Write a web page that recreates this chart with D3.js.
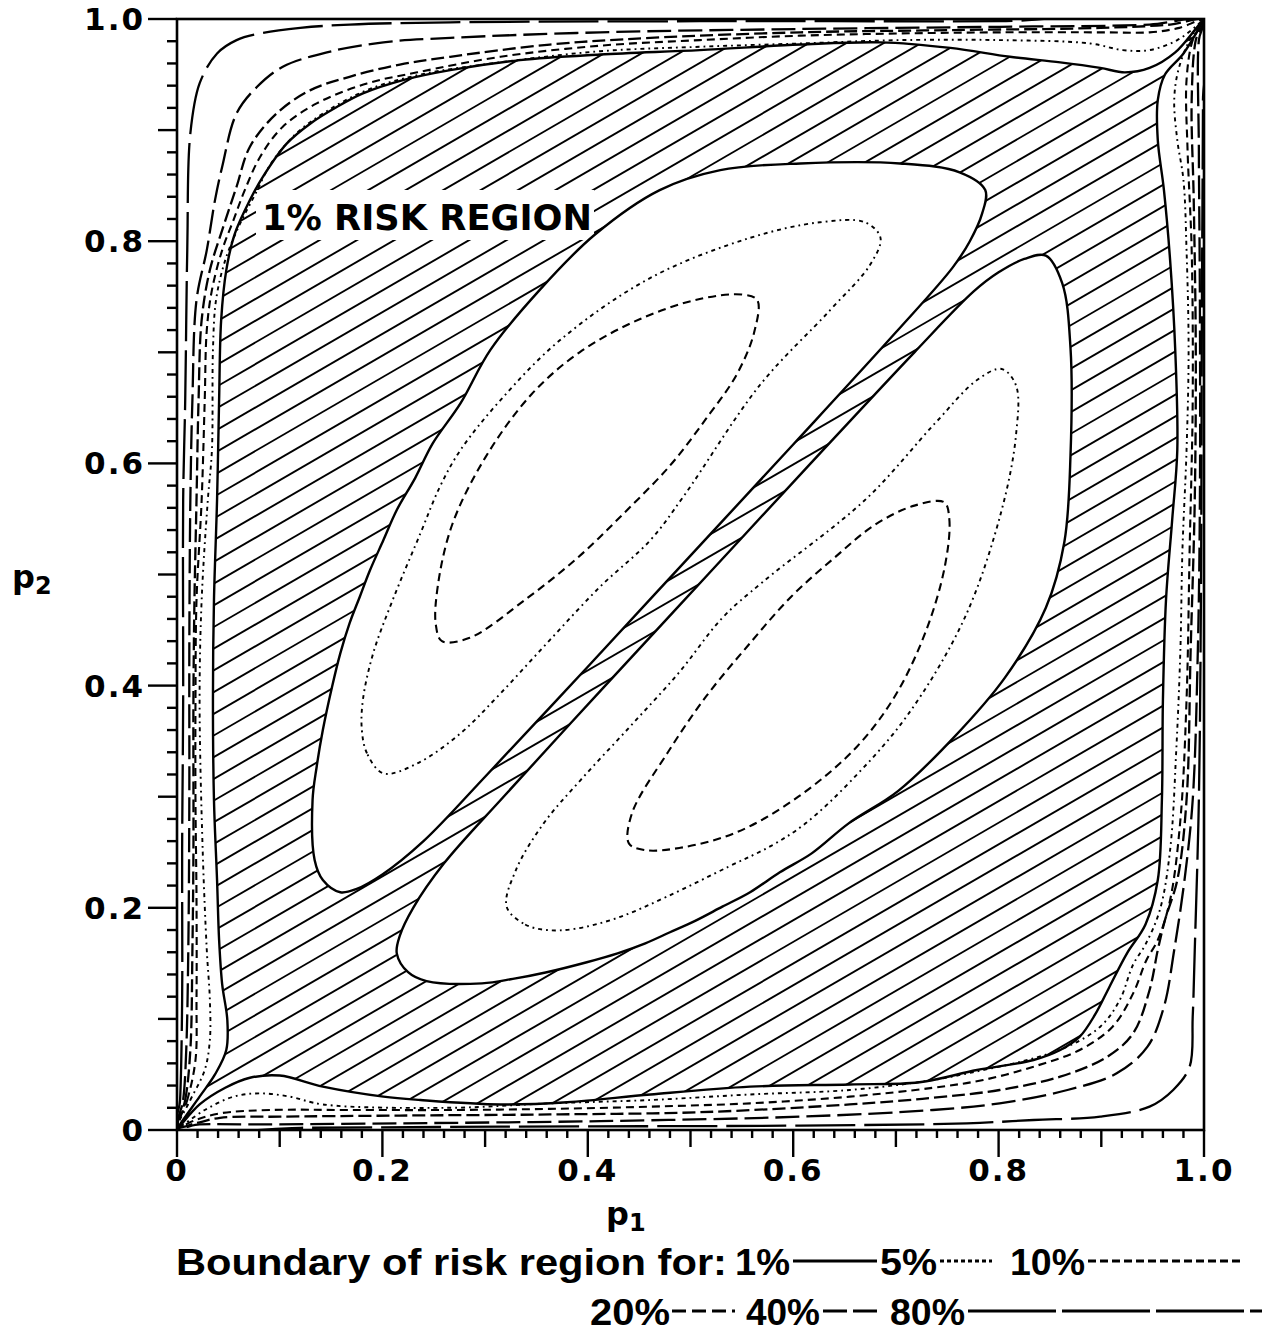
<!DOCTYPE html>
<html><head><meta charset="utf-8">
<script src="https://cdn.jsdelivr.net/npm/d3@7"></script>
<style>body{margin:0;background:#fff}svg{display:block}</style>
</head><body>
<svg id="c" width="1267" height="1335"></svg>
<script>
// ---------------- DATA ----------------
const levels = ["1%", "5%", "10%", "20%", "40%", "80%"];
const xTickValues = [0, 0.2, 0.4, 0.6, 0.8, 1.0];
const xTickLabels = ["0", "0.2", "0.4", "0.6", "0.8", "1.0"];
const yTickValues = [0, 0.2, 0.4, 0.6, 0.8, 1.0];
const yTickLabels = ["0", "0.2", "0.4", "0.6", "0.8", "1.0"];
const xLabel = "p", xSub = "1", yLabel = "p", ySub = "2";
const regionLabel = "1% RISK REGION";

// outer boundaries (p1, p2), one closed loop per level
const outer1 = [[0.001,0.002],[0.022,0.030],[0.037,0.050],[0.048,0.072],[0.049,0.099],[0.044,0.131],[0.041,0.171],[0.039,0.225],[0.036,0.297],[0.035,0.387],[0.036,0.477],[0.039,0.567],[0.041,0.657],[0.043,0.729],[0.048,0.774],[0.056,0.806],[0.071,0.837],[0.083,0.857],[0.107,0.888],[0.130,0.906],[0.156,0.921],[0.181,0.933],[0.220,0.945],[0.266,0.954],[0.334,0.963],[0.412,0.968],[0.509,0.972],[0.607,0.977],[0.685,0.979],[0.753,0.974],[0.811,0.966],[0.860,0.961],[0.899,0.956],[0.923,0.952],[0.947,0.956],[0.972,0.970],[0.991,0.990],[0.999,0.999],[0.980,0.969],[0.962,0.950],[0.955,0.927],[0.955,0.891],[0.961,0.846],[0.967,0.783],[0.972,0.702],[0.974,0.612],[0.969,0.549],[0.963,0.477],[0.960,0.387],[0.959,0.297],[0.955,0.225],[0.943,0.185],[0.925,0.159],[0.908,0.129],[0.894,0.104],[0.879,0.084],[0.860,0.072],[0.834,0.063],[0.779,0.054],[0.723,0.043],[0.655,0.041],[0.558,0.039],[0.461,0.032],[0.380,0.025],[0.315,0.023],[0.237,0.027],[0.201,0.030],[0.142,0.039],[0.100,0.049],[0.071,0.047],[0.047,0.038],[0.022,0.023]];
const outer5 = [[0.001,0.003],[0.013,0.027],[0.027,0.054],[0.032,0.081],[0.032,0.117],[0.029,0.162],[0.025,0.252],[0.022,0.387],[0.024,0.477],[0.030,0.567],[0.034,0.612],[0.035,0.702],[0.038,0.747],[0.047,0.783],[0.061,0.815],[0.076,0.842],[0.091,0.869],[0.115,0.896],[0.144,0.916],[0.185,0.936],[0.237,0.950],[0.315,0.961],[0.412,0.971],[0.509,0.975],[0.607,0.978],[0.704,0.981],[0.801,0.981],[0.889,0.978],[0.921,0.972],[0.947,0.972],[0.974,0.981],[0.993,0.994],[0.999,0.999],[0.986,0.981],[0.975,0.954],[0.971,0.927],[0.974,0.891],[0.980,0.855],[0.983,0.792],[0.985,0.702],[0.983,0.612],[0.979,0.522],[0.977,0.432],[0.973,0.342],[0.967,0.252],[0.957,0.198],[0.943,0.167],[0.931,0.149],[0.918,0.117],[0.899,0.093],[0.867,0.075],[0.828,0.063],[0.785,0.054],[0.736,0.045],[0.655,0.036],[0.558,0.032],[0.461,0.027],[0.363,0.024],[0.266,0.020],[0.142,0.023],[0.110,0.030],[0.081,0.033],[0.055,0.030],[0.027,0.018]];
const outer10 = [[0.001,0.003],[0.010,0.027],[0.018,0.063],[0.019,0.117],[0.019,0.207],[0.018,0.297],[0.018,0.387],[0.019,0.477],[0.024,0.567],[0.027,0.657],[0.029,0.720],[0.034,0.756],[0.044,0.792],[0.055,0.819],[0.066,0.846],[0.081,0.876],[0.103,0.903],[0.136,0.924],[0.185,0.942],[0.234,0.952],[0.315,0.966],[0.412,0.976],[0.509,0.981],[0.607,0.985],[0.704,0.987],[0.801,0.988],[0.899,0.988],[0.947,0.988],[0.976,0.992],[0.999,0.999],[0.989,0.981],[0.983,0.945],[0.984,0.882],[0.988,0.792],[0.989,0.657],[0.986,0.522],[0.983,0.387],[0.977,0.279],[0.967,0.207],[0.955,0.171],[0.944,0.153],[0.931,0.123],[0.911,0.093],[0.879,0.072],[0.834,0.057],[0.785,0.045],[0.736,0.038],[0.655,0.030],[0.558,0.024],[0.461,0.021],[0.363,0.019],[0.266,0.018],[0.168,0.018],[0.091,0.018],[0.042,0.015],[0.018,0.009]];
const outer20 = [[0.001,0.003],[0.008,0.027],[0.013,0.072],[0.015,0.162],[0.016,0.252],[0.016,0.387],[0.017,0.477],[0.019,0.567],[0.021,0.657],[0.024,0.729],[0.032,0.774],[0.044,0.810],[0.058,0.849],[0.071,0.885],[0.097,0.915],[0.130,0.936],[0.168,0.948],[0.217,0.959],[0.266,0.966],[0.363,0.977],[0.461,0.983],[0.607,0.988],[0.753,0.990],[0.899,0.992],[0.967,0.995],[0.999,0.999],[0.992,0.981],[0.988,0.927],[0.990,0.837],[0.992,0.702],[0.991,0.567],[0.987,0.432],[0.983,0.297],[0.974,0.225],[0.962,0.189],[0.955,0.162],[0.947,0.126],[0.931,0.087],[0.906,0.066],[0.860,0.048],[0.801,0.036],[0.736,0.029],[0.655,0.023],[0.509,0.016],[0.363,0.014],[0.217,0.013],[0.100,0.012],[0.042,0.011],[0.018,0.006]];
const outer40 = [[0.001,0.003],[0.006,0.027],[0.009,0.072],[0.011,0.162],[0.012,0.297],[0.012,0.432],[0.013,0.567],[0.015,0.657],[0.019,0.747],[0.029,0.792],[0.037,0.837],[0.044,0.867],[0.058,0.915],[0.078,0.939],[0.103,0.957],[0.146,0.970],[0.201,0.979],[0.266,0.983],[0.412,0.988],[0.607,0.991],[0.801,0.993],[0.947,0.995],[0.999,0.999],[0.995,0.981],[0.995,0.882],[0.996,0.747],[0.996,0.567],[0.994,0.432],[0.989,0.297],[0.981,0.225],[0.971,0.162],[0.961,0.111],[0.945,0.075],[0.915,0.051],[0.867,0.036],[0.801,0.024],[0.736,0.018],[0.607,0.012],[0.412,0.008],[0.217,0.006],[0.071,0.005],[0.022,0.005]];
const outer80 = [[0.001,0.002],[0.003,0.027],[0.005,0.117],[0.005,0.252],[0.006,0.387],[0.006,0.567],[0.008,0.657],[0.010,0.792],[0.013,0.897],[0.022,0.942],[0.039,0.969],[0.058,0.981],[0.081,0.987],[0.120,0.992],[0.168,0.995],[0.266,0.997],[0.509,0.998],[0.801,0.998],[0.999,0.999],[0.999,0.927],[0.998,0.747],[0.997,0.477],[0.995,0.297],[0.991,0.162],[0.989,0.102],[0.986,0.057],[0.970,0.036],[0.947,0.021],[0.899,0.012],[0.834,0.009],[0.769,0.006],[0.607,0.004],[0.315,0.003],[0.120,0.002]];

// inner boundaries (ovals)
const oval1Upper = [[0.159,0.214],[0.142,0.225],[0.134,0.243],[0.132,0.297],[0.136,0.327],[0.142,0.360],[0.151,0.399],[0.159,0.429],[0.168,0.456],[0.178,0.480],[0.188,0.504],[0.201,0.531],[0.214,0.558],[0.232,0.587],[0.249,0.618],[0.276,0.654],[0.305,0.702],[0.353,0.756],[0.407,0.806],[0.470,0.846],[0.529,0.864],[0.607,0.870],[0.704,0.870],[0.762,0.862],[0.787,0.846],[0.784,0.825],[0.772,0.800],[0.755,0.776],[0.700,0.718],[0.600,0.617],[0.500,0.517],[0.400,0.417],[0.300,0.318],[0.240,0.260],[0.200,0.230],[0.175,0.217]];
const oval1Lower = [[0.214,0.159],[0.225,0.142],[0.243,0.134],[0.297,0.132],[0.327,0.136],[0.360,0.142],[0.399,0.151],[0.429,0.159],[0.456,0.168],[0.480,0.178],[0.504,0.188],[0.531,0.201],[0.558,0.214],[0.587,0.232],[0.618,0.249],[0.654,0.276],[0.702,0.305],[0.756,0.353],[0.806,0.407],[0.846,0.470],[0.864,0.529],[0.870,0.607],[0.870,0.704],[0.862,0.762],[0.846,0.787],[0.825,0.784],[0.800,0.772],[0.776,0.755],[0.718,0.700],[0.617,0.600],[0.517,0.500],[0.417,0.400],[0.318,0.300],[0.260,0.240],[0.230,0.200],[0.217,0.175]];
const oval5Upper = [[0.201,0.321],[0.185,0.339],[0.180,0.360],[0.181,0.387],[0.191,0.429],[0.210,0.477],[0.237,0.537],[0.256,0.579],[0.276,0.612],[0.315,0.657],[0.373,0.711],[0.461,0.767],[0.558,0.803],[0.626,0.817],[0.670,0.817],[0.685,0.803],[0.675,0.779],[0.636,0.738],[0.568,0.671],[0.493,0.570],[0.461,0.531],[0.412,0.489],[0.363,0.441],[0.315,0.393],[0.276,0.357],[0.234,0.330]];
const oval5Lower = [[0.321,0.201],[0.339,0.185],[0.360,0.180],[0.387,0.181],[0.429,0.191],[0.477,0.210],[0.537,0.237],[0.579,0.256],[0.612,0.276],[0.657,0.315],[0.711,0.373],[0.767,0.461],[0.803,0.558],[0.817,0.626],[0.817,0.670],[0.803,0.685],[0.779,0.675],[0.738,0.636],[0.671,0.568],[0.570,0.493],[0.531,0.461],[0.489,0.412],[0.441,0.363],[0.393,0.315],[0.357,0.276],[0.330,0.234]];
const oval10Upper = [[0.565,0.747],[0.550,0.752],[0.509,0.748],[0.451,0.730],[0.392,0.700],[0.345,0.662],[0.300,0.605],[0.268,0.545],[0.254,0.490],[0.252,0.455],[0.258,0.440],[0.285,0.443],[0.340,0.478],[0.390,0.515],[0.435,0.555],[0.480,0.598],[0.515,0.640],[0.545,0.680],[0.562,0.718]];
const oval10Lower = [[0.747,0.565],[0.752,0.550],[0.748,0.509],[0.730,0.451],[0.700,0.392],[0.662,0.345],[0.605,0.300],[0.545,0.268],[0.490,0.254],[0.455,0.252],[0.440,0.258],[0.443,0.285],[0.478,0.340],[0.515,0.390],[0.555,0.435],[0.598,0.480],[0.640,0.515],[0.680,0.545],[0.718,0.562]];

// ---------------- DRAWING ----------------
const styles = {
  "1%":  {dash: null,           w: 2.4},
  "5%":  {dash: "4,4,1.8,4",    w: 1.9},
  "10%": {dash: "8,5",          w: 2.1},
  "20%": {dash: "13,5",         w: 2.3},
  "40%": {dash: "24,7",         w: 2.3},
  "80%": {dash: "60,9",         w: 2.3}
};
const svg = d3.select("#c");
const x = d3.scaleLinear().domain([0, 1]).range([177, 1204]);
const y = d3.scaleLinear().domain([0, 1]).range([1130, 19]);
const loop = d3.line().x(d => x(d[0])).y(d => y(d[1])).curve(d3.curveCatmullRomClosed.alpha(0.5));

const defs = svg.append("defs");
defs.append("clipPath").attr("id", "plot").append("rect")
  .attr("x", x(0)).attr("y", y(1)).attr("width", x(1) - x(0)).attr("height", y(0) - y(1));
defs.append("clipPath").attr("id", "hatch").append("path")
  .attr("clip-rule", "evenodd")
  .attr("d", loop(outer1) + loop(oval1Upper) + loop(oval1Lower));

// hatching of the 1% risk region
const hg = svg.append("g").attr("clip-path", "url(#hatch)");
const slope = 0.58, step = 21.7;
const W = x(1) - x(0);
const starts = d3.range(y(1), y(0) + W * slope + step, step);
hg.selectAll("line").data(starts).join("line")
  .attr("x1", x(0)).attr("y1", d => d)
  .attr("x2", x(1)).attr("y2", d => d - W * slope)
  .attr("stroke", "#000").attr("stroke-width", 1.9);

// white box behind label
svg.append("rect").attr("x", 256).attr("y", 190).attr("width", 338).attr("height", 50).attr("fill", "#fff");

// contours
const cg = svg.append("g").attr("clip-path", "url(#plot)").attr("fill", "none").attr("stroke", "#000");
const contours = [
  {lvl: "80%", d: outer80}, {lvl: "40%", d: outer40}, {lvl: "20%", d: outer20},
  {lvl: "10%", d: outer10}, {lvl: "5%", d: outer5},
  {lvl: "10%", d: oval10Upper}, {lvl: "10%", d: oval10Lower},
  {lvl: "5%", d: oval5Upper}, {lvl: "5%", d: oval5Lower},
  {lvl: "1%", d: outer1}, {lvl: "1%", d: oval1Upper}, {lvl: "1%", d: oval1Lower}
];
cg.selectAll("path").data(contours).join("path")
  .attr("d", c => loop(c.d))
  .attr("stroke-width", c => styles[c.lvl].w)
  .attr("stroke-dasharray", c => styles[c.lvl].dash)
  .attr("stroke-linejoin", "round");

// frame
const fg = svg.append("g").attr("stroke", "#000").attr("stroke-width", 2.6).attr("fill", "none");
fg.append("rect").attr("x", x(0)).attr("y", y(1)).attr("width", x(1) - x(0)).attr("height", y(0) - y(1));

// ticks
const minor = d3.range(0, 51).map(i => i / 50);
const tickLen = v => {
  const k = Math.round(v * 50);
  if (k % 10 === 0) return 27;
  if (k % 5 === 0) return 17;
  return 8;
};
const tg = svg.append("g").attr("stroke", "#000").attr("stroke-width", 2.4);
tg.selectAll("line.xt").data(minor).join("line").attr("class", "xt")
  .attr("x1", d => x(d)).attr("x2", d => x(d)).attr("y1", y(0)).attr("y2", d => y(0) + tickLen(d));
tg.selectAll("line.yt").data(minor).join("line").attr("class", "yt")
  .attr("y1", d => y(d)).attr("y2", d => y(d)).attr("x1", x(0)).attr("x2", d => x(0) - tickLen(d) - 2);

// tick labels
const font = "'DejaVu Sans', sans-serif";
svg.append("g").selectAll("text").data(xTickValues).join("text")
  .attr("x", d => x(d)).attr("y", 1181).attr("text-anchor", "middle")
  .attr("font-family", font).attr("font-weight", "bold").attr("font-size", 31)
  .attr("letter-spacing", 2)
  .text((d, i) => xTickLabels[i]);
svg.append("g").selectAll("text").data(yTickValues).join("text")
  .attr("x", 145).attr("y", d => y(d) + 11).attr("text-anchor", "end")
  .attr("font-family", font).attr("font-weight", "bold").attr("font-size", 31)
  .attr("letter-spacing", 2)
  .text((d, i) => yTickLabels[i]);

// axis titles
const xt = svg.append("text").attr("x", 606).attr("y", 1225)
  .attr("font-family", font).attr("font-weight", "bold").attr("font-size", 32);
xt.append("tspan").text(xLabel);
xt.append("tspan").attr("dy", 6).attr("font-size", 24).text(xSub);
const yt = svg.append("text").attr("x", 12).attr("y", 588)
  .attr("font-family", font).attr("font-weight", "bold").attr("font-size", 32);
yt.append("tspan").text(yLabel);
yt.append("tspan").attr("dy", 6).attr("font-size", 24).text(ySub);

// region label
svg.append("text").attr("x", 262).attr("y", 230)
  .attr("font-family", font).attr("font-weight", "bold").attr("font-size", 36)
  .attr("textLength", 330).attr("lengthAdjust", "spacingAndGlyphs")
  .text(regionLabel);

// legend
const lf = "'Liberation Sans', Arial, sans-serif";
const legendTexts = [
  {t: "Boundary  of risk region for:", x: 176, y: 1275, w: 551},
  {t: levels[0], x: 735, y: 1275, w: 55},
  {t: levels[1], x: 880, y: 1275, w: 57},
  {t: levels[2], x: 1010, y: 1275, w: 75},
  {t: levels[3], x: 590, y: 1325, w: 80},
  {t: levels[4], x: 746, y: 1325, w: 74},
  {t: levels[5], x: 890, y: 1325, w: 75}
];
svg.append("g").selectAll("text").data(legendTexts).join("text")
  .attr("x", d => d.x).attr("y", d => d.y)
  .attr("font-family", lf).attr("font-weight", "bold").attr("font-size", 36)
  .attr("textLength", d => d.w).attr("lengthAdjust", "spacingAndGlyphs")
  .text(d => d.t);
const legendLines = [
  {lvl: levels[0], x1: 793, x2: 877, y: 1261},
  {lvl: levels[1], x1: 940, x2: 992, y: 1261},
  {lvl: levels[2], x1: 1088, x2: 1240, y: 1261},
  {lvl: levels[3], x1: 672, x2: 735, y: 1311},
  {lvl: levels[4], x1: 823, x2: 880, y: 1311},
  {lvl: levels[5], x1: 968, x2: 1262, y: 1311}
];
const legendDash = {"1%": null, "5%": "4,3", "10%": "8,4", "20%": "14,6", "40%": "24,6", "80%": "88,6"};
svg.append("g").selectAll("line").data(legendLines).join("line")
  .attr("x1", d => d.x1).attr("x2", d => d.x2).attr("y1", d => d.y).attr("y2", d => d.y)
  .attr("stroke", "#000").attr("stroke-width", 3)
  .attr("stroke-dasharray", d => legendDash[d.lvl]);
</script>
</body></html>
